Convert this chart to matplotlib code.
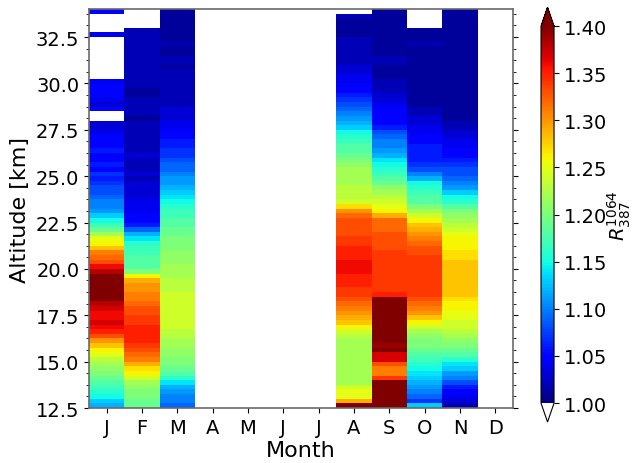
import numpy as np
import matplotlib
matplotlib.use("Agg")
import matplotlib.pyplot as plt
from matplotlib.ticker import AutoMinorLocator

nan = np.nan

# altitude bins, 0.25 km, from 12.5 to 34.0 km (values listed bottom -> top)
alt_edges = np.arange(12.5, 34.01, 0.25)
month_labels = ['J', 'F', 'M', 'A', 'M', 'J', 'J', 'A', 'S', 'O', 'N', 'D']

jan = [1.12, 1.13, 1.15, 1.16,
       1.17, 1.18, 1.19, 1.20,
       1.21, 1.22, 1.23, 1.25,
       1.26, 1.28, 1.30, 1.33,
       1.35, 1.36, 1.37, 1.36,
       1.36, 1.37, 1.38, 1.42,
       1.45, 1.46, 1.45, 1.44,
       1.42, 1.38, 1.36, 1.33,
       1.32, 1.31, 1.28, 1.26,
       1.25, 1.22, 1.19, 1.17,
       1.15, 1.13, 1.11, 1.10,
       1.10, 1.09, 1.08, 1.08,
       1.07, 1.06, 1.07, 1.05,
       1.06, 1.05, 1.05, 1.06,
       1.05, 1.05, 1.05, 1.04,
       1.03, 1.03, nan, nan,
       1.05, 1.03, 1.04, 1.05,
       1.05, 1.05, 1.04, nan,
       nan, nan, nan, nan,
       nan, nan, nan, nan,
       1.04, nan, nan, nan,
       nan, 1.05]

feb = [1.19, 1.19, 1.20, 1.20,
       1.21, 1.22, 1.24, 1.26,
       1.27, 1.29, 1.31, 1.32,
       1.33, 1.34, 1.35, 1.35,
       1.35, 1.35, 1.34, 1.34,
       1.33, 1.33, 1.32, 1.31,
       1.31, 1.30, 1.30, 1.29,
       1.26, 1.20, 1.18, 1.18,
       1.18, 1.17, 1.17, 1.16,
       1.14, 1.12, 1.09, 1.06,
       1.05, 1.05, 1.04, 1.04,
       1.04, 1.03, 1.03, 1.03,
       1.03, 1.02, 1.03, 1.02,
       1.02, 1.02, 1.03, 1.02,
       1.02, 1.02, 1.02, 1.02,
       1.02, 1.02, 1.01, 1.02,
       1.02, 1.02, 1.02, 1.01,
       1.01, 1.02, 1.02, 1.02,
       1.02, 1.02, 1.02, 1.02,
       1.02, 1.02, 1.02, 1.02,
       1.02, 1.02, nan, nan,
       nan, nan]

mar = [1.09, 1.10, 1.10, 1.11,
       1.12, 1.14, 1.16, 1.18,
       1.19, 1.20, 1.20, 1.21,
       1.21, 1.22, 1.22, 1.23,
       1.23, 1.24, 1.24, 1.24,
       1.24, 1.24, 1.24, 1.24,
       1.24, 1.23, 1.23, 1.23,
       1.22, 1.22, 1.22, 1.21,
       1.21, 1.21, 1.20, 1.20,
       1.20, 1.19, 1.19, 1.18,
       1.18, 1.17, 1.17, 1.16,
       1.15, 1.14, 1.13, 1.12,
       1.11, 1.11, 1.10, 1.09,
       1.09, 1.08, 1.07, 1.07,
       1.06, 1.06, 1.05, 1.05,
       1.04, 1.04, 1.03, 1.03,
       1.03, 1.02, 1.02, 1.02,
       1.02, 1.02, 1.02, 1.02,
       1.02, 1.01, 1.02, 1.02,
       1.01, 1.01, 1.02, 1.01,
       1.01, 1.01, 1.01, 1.01,
       1.01, 1.01]

aug = [1.42, 1.29, 1.25, 1.25,
       1.24, 1.22, 1.22, 1.22,
       1.22, 1.22, 1.22, 1.22,
       1.22, 1.22, 1.22, 1.23,
       1.24, 1.26, 1.28, 1.29,
       1.30, 1.31, 1.32, 1.33,
       1.34, 1.34, 1.35, 1.35,
       1.35, 1.36, 1.36, 1.36,
       1.35, 1.35, 1.35, 1.34,
       1.34, 1.33, 1.33, 1.33,
       1.33, 1.32, 1.30, 1.27,
       1.24, 1.23, 1.23, 1.23,
       1.22, 1.22, 1.22, 1.22,
       1.21, 1.20, 1.19, 1.18,
       1.18, 1.17, 1.16, 1.15,
       1.13, 1.12, 1.11, 1.10,
       1.09, 1.08, 1.07, 1.06,
       1.05, 1.05, 1.04, 1.04,
       1.03, 1.03, 1.02, 1.02,
       1.02, 1.02, 1.02, 1.02,
       1.01, 1.01, 1.01, 1.01,
       1.02, nan]

sep = [1.45, 1.45, 1.45, 1.45,
       1.45, 1.45, 1.34, 1.31,
       1.31, 1.33, 1.37, 1.37,
       1.40, 1.39, 1.42, 1.45,
       1.45, 1.45, 1.45, 1.45,
       1.45, 1.45, 1.45, 1.40,
       1.35, 1.34, 1.34, 1.34,
       1.34, 1.34, 1.34, 1.34,
       1.34, 1.34, 1.33, 1.33,
       1.33, 1.33, 1.32, 1.32,
       1.32, 1.29, 1.26, 1.25,
       1.24, 1.23, 1.22, 1.21,
       1.19, 1.18, 1.17, 1.16,
       1.15, 1.14, 1.12, 1.11,
       1.10, 1.10, 1.09, 1.08,
       1.06, 1.05, 1.05, 1.05,
       1.05, 1.04, 1.03, 1.03,
       1.02, 1.02, 1.02, 1.01,
       1.01, 1.01, 1.02, 1.02,
       1.01, 1.01, 1.01, 1.01,
       1.01, 1.01, 1.01, 1.01,
       1.01, 1.01]

oct_ = [1.13, 1.07, 1.09, 1.10,
        1.11, 1.12, 1.13, 1.14,
        1.15, 1.16, 1.17, 1.18,
        1.19, 1.20, 1.20, 1.21,
        1.22, 1.24, 1.26, 1.28,
        1.30, 1.31, 1.32, 1.33,
        1.34, 1.34, 1.34, 1.34,
        1.34, 1.34, 1.34, 1.34,
        1.34, 1.33, 1.33, 1.32,
        1.31, 1.30, 1.29, 1.28,
        1.26, 1.24, 1.22, 1.20,
        1.18, 1.18, 1.17, 1.16,
        1.15, 1.12, 1.10, 1.08,
        1.07, 1.06, 1.06, 1.06,
        1.06, 1.05, 1.05, 1.04,
        1.04, 1.03, 1.03, 1.02,
        1.02, 1.01, 1.01, 1.01,
        1.01, 1.01, 1.01, 1.01,
        1.01, 1.01, 1.01, 1.01,
        1.01, 1.01, 1.02, 1.01,
        1.01, 1.01, nan, nan,
        nan, nan]

nov = [1.02, 1.03, 1.04, 1.05,
       1.06, 1.08, 1.10, 1.11,
       1.13, 1.14, 1.16, 1.18,
       1.19, 1.20, 1.21, 1.22,
       1.23, 1.24, 1.24, 1.25,
       1.25, 1.26, 1.26, 1.27,
       1.28, 1.28, 1.28, 1.28,
       1.28, 1.28, 1.28, 1.28,
       1.27, 1.27, 1.26, 1.26,
       1.26, 1.25, 1.24, 1.23,
       1.22, 1.21, 1.20, 1.18,
       1.16, 1.15, 1.13, 1.11,
       1.10, 1.09, 1.08, 1.08,
       1.07, 1.06, 1.05, 1.05,
       1.04, 1.04, 1.03, 1.03,
       1.02, 1.02, 1.01, 1.01,
       1.01, 1.01, 1.01, 1.01,
       1.01, 1.01, 1.01, 1.01,
       1.01, 1.01, 1.01, 1.01,
       1.01, 1.01, 1.01, 1.01,
       1.01, 1.01, 1.01, 1.01,
       1.01, 1.01]

profiles = {1: jan, 2: feb, 3: mar, 8: aug, 9: sep, 10: oct_, 11: nov}

n_alt = len(alt_edges) - 1
ratio = np.full((n_alt, 12), np.nan)
for m, prof in profiles.items():
    ratio[:, m - 1] = prof

month_edges = np.arange(0.5, 12.6, 1.0)

cmap = plt.get_cmap('jet').copy()
cmap.set_under('white')

fig = plt.figure(figsize=(6.38, 4.64), dpi=100)
ax = fig.add_axes([0.1395, 0.1185, 0.6645, 0.8595])
cax = fig.add_axes([0.848, 0.0884, 0.0204, 0.894])

mesh = ax.pcolormesh(month_edges, alt_edges, np.ma.masked_invalid(ratio),
                     cmap=cmap, vmin=1.0, vmax=1.4)
ax.set_xlim(0.5, 12.5)
ax.set_ylim(12.5, 34.0)
ax.set_xticks(range(1, 13))
ax.set_xticklabels(month_labels)
ax.set_yticks(np.arange(12.5, 33, 2.5))
ax.yaxis.set_minor_locator(AutoMinorLocator(4))
ax.tick_params(axis='y', which='both', right=True)
ax.tick_params(labelsize=14)
ax.set_xlabel('Month', fontsize=16, labelpad=2)
ax.set_ylabel('Altitude [km]', fontsize=16)
for sp in ax.spines.values():
    sp.set_color('dimgray')
    sp.set_linewidth(1.2)

cb = fig.colorbar(mesh, cax=cax, extend='both')
cb.set_ticks(np.arange(1.0, 1.401, 0.05))
cb.ax.set_yticklabels(['%.2f' % v for v in np.arange(1.0, 1.401, 0.05)])
cb.ax.tick_params(labelsize=14)
cb.set_label(r'$R_{387}^{1064}$', fontsize=14, labelpad=-1)

fig.savefig('out.png', dpi=100)
